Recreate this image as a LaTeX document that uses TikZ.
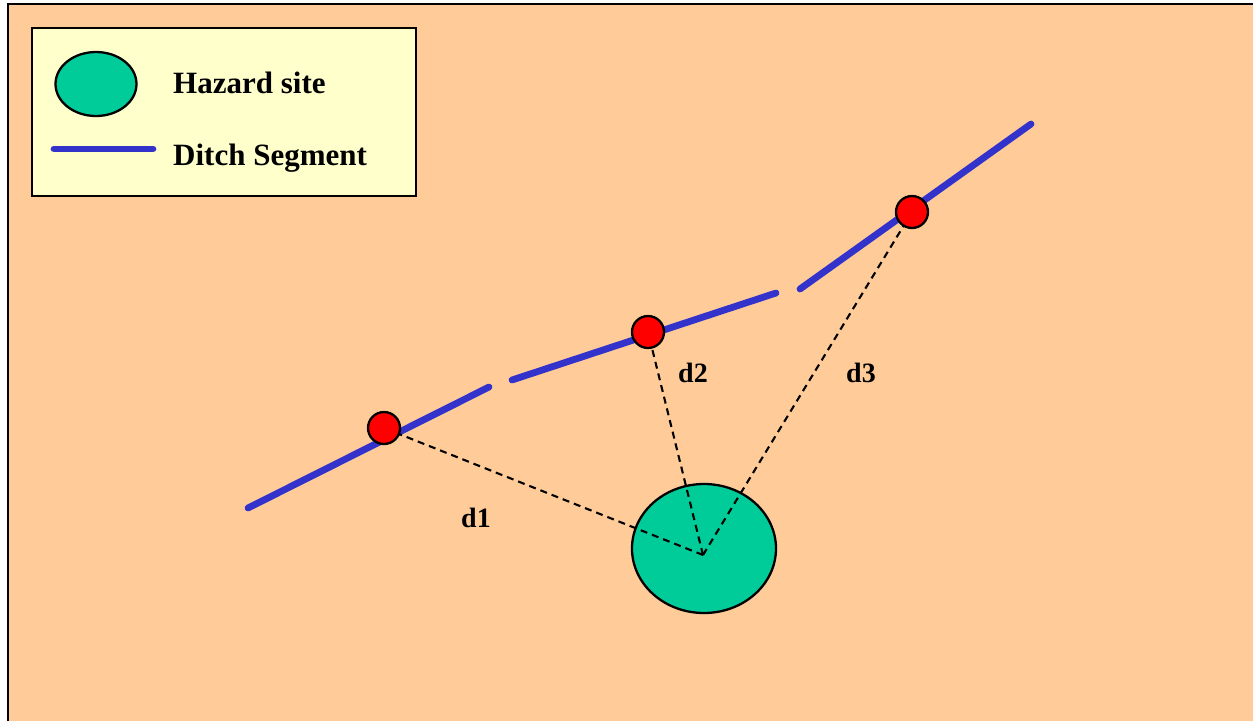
\documentclass[tikz,border=0pt]{standalone}
\usepackage{fontspec}
\setmainfont{Liberation Serif}
\usetikzlibrary{shapes.geometric}
\definecolor{peach}{HTML}{FFCC99}
\definecolor{legendbg}{HTML}{FFFFCC}
\definecolor{hazard}{HTML}{00CC99}
\definecolor{ditch}{HTML}{3333CC}
\definecolor{dotred}{HTML}{FF0000}
\tikzset{
  ditchline/.style={draw=ditch, line width=6.8pt, line cap=round},
  distline/.style={draw=black, line width=2.1pt, dash pattern=on 7pt off 5pt},
  hazardsite/.style={ellipse, draw=black, line width=2.3pt, fill=hazard, inner sep=0pt},
  sitepoint/.style={circle, draw=black, line width=2.3pt, fill=dotred, minimum size=32pt, inner sep=0pt},
  legendtext/.style={font=\fontsize{31}{36}\selectfont\bfseries, anchor=base west, inner sep=0pt},
  distlabel/.style={font=\fontsize{28}{32}\selectfont\bfseries, inner sep=0pt},
}
\begin{document}
\begin{tikzpicture}[x=1pt,y=-1pt]
\useasboundingbox (0,0) rectangle (1253,721);
\fill[white] (0,0) rectangle (1253,721);
\fill[peach] (8,4) rectangle (1253,721);
\draw[black, line width=2.2pt] (8,721) -- (8,4) -- (1253,4);
% legend
\node[draw=black, line width=2pt, fill=legendbg, minimum width=384pt, minimum height=168pt, inner sep=0pt] (legend) at (224,112) {};
\node[hazardsite, minimum width=81pt, minimum height=64pt] (leghaz) at (96,84) {};
\node[legendtext] (leghaztxt) at (173,93) {Hazard site};
\coordinate (legA) at (54,149);
\coordinate (legB) at (153,149);
\draw[ditchline] (legA) -- (legB);
\node[legendtext] (legditchtxt) at (173,165.5) {Ditch Segment};
% ditch segments
\coordinate (s1a) at (248,508);
\coordinate (s1b) at (489,387);
\coordinate (s2a) at (512,380);
\coordinate (s2b) at (776,293);
\coordinate (s3a) at (800,289);
\coordinate (s3b) at (1031,124);
\draw[ditchline] (s1a) -- (s1b);
\draw[ditchline] (s2a) -- (s2b);
\draw[ditchline] (s3a) -- (s3b);
% hazard site
\node[hazardsite, minimum width=144pt, minimum height=129pt] (haz) at (704,548.5) {};
\coordinate (hc) at (703,555);
% nearest points
\coordinate (p1) at (384,428);
\coordinate (p2) at (648,332);
\coordinate (p3) at (912,212);
\draw[distline] (hc) -- (p1);
\draw[distline] (hc) -- (p2);
\draw[distline] (hc) -- (p3);
\node[sitepoint] (n1) at (p1) {};
\node[sitepoint] (n2) at (p2) {};
\node[sitepoint] (n3) at (p3) {};
% labels
\node[distlabel] (d1) at (476,518) {d1};
\node[distlabel] (d2) at (693,373) {d2};
\node[distlabel] (d3) at (861,373) {d3};
\end{tikzpicture}
\end{document}
